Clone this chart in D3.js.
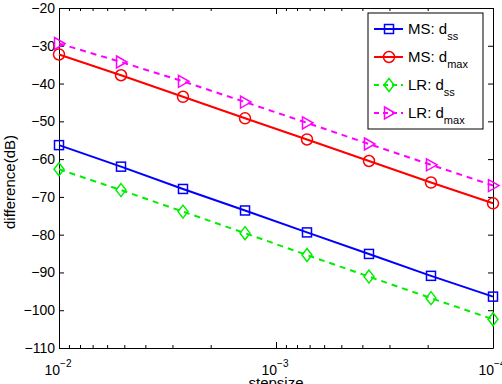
<!DOCTYPE html>
<html>
<head>
<meta charset="utf-8">
<script src="https://cdn.jsdelivr.net/npm/d3@7"></script>
<style>
  body { margin: 0; background: #fff; }
  svg { display: block; font-family: "Liberation Sans", Arial, Helvetica, sans-serif; }
  .axis path, .axis line { stroke: #000; }
  .axis text { font-size: 14px; fill: #000; font-family: "Liberation Sans", Arial, sans-serif; }
</style>
</head>
<body>
<div id="chart"></div>
<script>
// step sizes (logspace from 1e-2 down to 1e-4, 8 points)
const stepsizes = [1e-2, 5.179e-3, 2.683e-3, 1.389e-3, 7.197e-4, 3.728e-4, 1.931e-4, 1e-4];

// difference in dB
const msDss  = [-56.3, -62.0, -67.9, -73.6, -79.4, -85.1, -90.9, -96.4];
const msDmax = [-32.3, -37.8, -43.5, -49.2, -54.8, -60.5, -66.2, -71.7];
const lrDss  = [-62.7, -68.2, -73.9, -79.6, -85.4, -91.1, -96.8, -102.4];
const lrDmax = [-29.4, -34.3, -39.4, -44.9, -50.4, -56.0, -61.5, -67.0];

const xMajor = [1e-2, 1e-3, 1e-4];
const xMajorExp = ['-2', '-3', '-4'];
const yTicks = [-110, -100, -90, -80, -70, -60, -50, -40, -30, -20];

const series = [
  { name: 'MS', sub: 'ss',  values: msDss,  color: '#0000ff', dash: null,  marker: 'square' },
  { name: 'MS', sub: 'max', values: msDmax, color: '#ff0000', dash: null,  marker: 'circle' },
  { name: 'LR', sub: 'ss',  values: lrDss,  color: '#00ee00', dash: '6,5', marker: 'diamond' },
  { name: 'LR', sub: 'max', values: lrDmax, color: '#ff00ff', dash: '6,5', marker: 'triangle' },
];

const W = 502, H = 384;
const PLOT = { left: 59, right: 493, top: 8, bottom: 348 };

const svg = d3.select('#chart').append('svg').attr('width', W).attr('height', H);

const x = d3.scaleLog().domain([1e-2, 1e-4]).range([PLOT.left, PLOT.right]);
const y = d3.scaleLinear().domain([-110, -20]).range([PLOT.bottom, PLOT.top]);

// minor ticks for the log axis
const xMinor = [];
[1e-3, 1e-4].forEach(base => {
  for (let m = 2; m <= 9; m++) xMinor.push(+(base * m).toPrecision(3));
});

// ===== Axes =====
const yLeft = d3.axisLeft(y).tickValues(yTicks).tickSizeInner(-5).tickSizeOuter(0).tickPadding(4);
svg.append('g').attr('class', 'axis')
  .attr('transform', `translate(${PLOT.left},0)`)
  .call(yLeft);

svg.append('g').attr('class', 'axis')
  .attr('transform', `translate(${PLOT.right},0)`)
  .call(d3.axisRight(y).tickValues(yTicks).tickSizeInner(-5).tickSizeOuter(0).tickFormat(''));

function xAxis(g, orient, ticks, size) {
  const ax = (orient === 'bottom' ? d3.axisBottom(x) : d3.axisTop(x))
    .tickValues(ticks).tickSizeInner(-size).tickSizeOuter(0).tickFormat('');
  g.call(ax);
}
svg.append('g').attr('class', 'axis').attr('transform', `translate(0,${PLOT.bottom})`)
  .call(g => xAxis(g, 'bottom', xMajor, 6));
svg.append('g').attr('class', 'axis').attr('transform', `translate(0,${PLOT.bottom})`)
  .call(g => xAxis(g, 'bottom', xMinor, 3)).select('.domain').remove();
svg.append('g').attr('class', 'axis').attr('transform', `translate(0,${PLOT.top})`)
  .call(g => xAxis(g, 'top', xMajor, 6));
svg.append('g').attr('class', 'axis').attr('transform', `translate(0,${PLOT.top})`)
  .call(g => xAxis(g, 'top', xMinor, 3)).select('.domain').remove();

// x tick labels 10^k
const xl = svg.append('g').selectAll('text').data(xMajor).join('text')
  .attr('x', d => x(d) - 1)
  .attr('y', 375)
  .attr('text-anchor', 'middle')
  .style('font-size', '14px');
xl.append('tspan').text('10');
xl.append('tspan').attr('dy', -8).style('font-size', '10px')
  .text((d, i) => xMajorExp[i].replace('-', '\u2212'));

// axis titles
svg.append('text')
  .attr('x', (PLOT.left + PLOT.right) / 2).attr('y', 388)
  .attr('text-anchor', 'middle').style('font-size', '15px')
  .text('stepsize');
svg.append('text')
  .attr('transform', `translate(15,${(PLOT.top + PLOT.bottom) / 2 + 4}) rotate(-90)`)
  .attr('text-anchor', 'middle').style('font-size', '15px')
  .text('difference(dB)');

// ===== Markers =====
function drawMarker(sel, type, color) {
  if (type === 'square') {
    sel.append('rect').attr('x', -4.5).attr('y', -4.5).attr('width', 9).attr('height', 9);
  } else if (type === 'circle') {
    sel.append('circle').attr('r', 5.5);
  } else if (type === 'diamond') {
    sel.append('path').attr('d', 'M0,-6.5L5,0L0,6.5L-5,0Z');
  } else {
    sel.append('path').attr('d', 'M-4.5,-6L6,0L-4.5,6Z');
  }
  sel.selectAll('*').attr('fill', 'none').attr('stroke', color).attr('stroke-width', 1.5);
}

// ===== Lines =====
const line = d3.line().x((d, i) => x(stepsizes[i])).y(d => y(d));
series.forEach(s => {
  svg.append('path')
    .attr('d', line(s.values))
    .attr('fill', 'none')
    .attr('stroke', s.color)
    .attr('stroke-width', 2)
    .attr('stroke-dasharray', s.dash);
  svg.append('g').selectAll('g').data(s.values).join('g')
    .attr('transform', (d, i) => `translate(${x(stepsizes[i])},${y(d)})`)
    .each(function () { drawMarker(d3.select(this), s.marker, s.color); });
});

// ===== Legend =====
const LEG = { x: 368, y: 13, w: 115, h: 116, row: 28 };
const leg = svg.append('g').attr('transform', `translate(${LEG.x},${LEG.y})`);
leg.append('rect').attr('width', LEG.w).attr('height', LEG.h)
  .attr('fill', '#fff').attr('stroke', '#000').attr('stroke-width', 1);
series.forEach((s, i) => {
  const cy = 16 + i * LEG.row;
  leg.append('line').attr('x1', 6).attr('x2', 35).attr('y1', cy).attr('y2', cy)
    .attr('stroke', s.color).attr('stroke-width', 2).attr('stroke-dasharray', s.dash ? '5,4' : null);
  drawMarker(leg.append('g').attr('transform', `translate(21,${cy})`), s.marker, s.color);
  const t = leg.append('text').attr('x', 40).attr('y', cy + 5).style('font-size', '15px');
  t.append('tspan').text(`${s.name}: d`);
  t.append('tspan').attr('dy', 6).style('font-size', '11px').text(s.sub);
});
</script>
</body>
</html>
